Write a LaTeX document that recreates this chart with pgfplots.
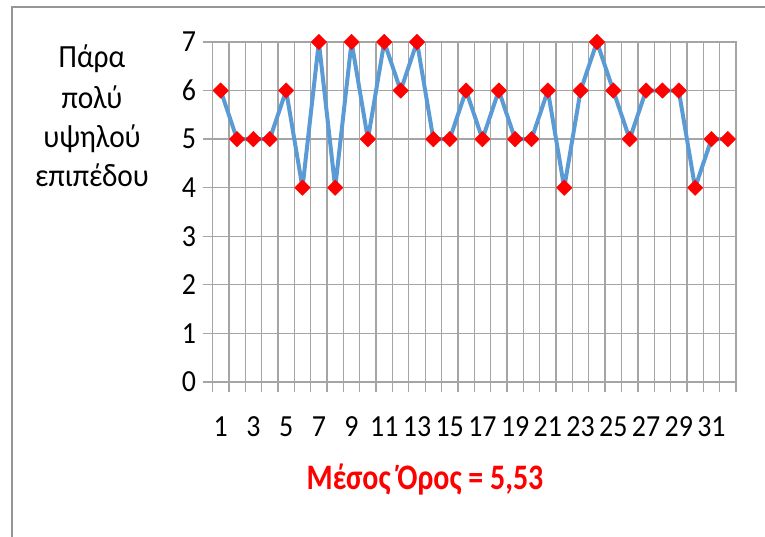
\documentclass[border=0pt]{standalone}
\usepackage{pgfplots}
\pgfplotsset{compat=1.18}
\usepackage{fontspec}
\setmainfont{Carlito}
\definecolor{gridgray}{RGB}{165,165,165}
\definecolor{lineblue}{RGB}{91,155,213}
\definecolor{framegray}{RGB}{150,150,150}
\begin{document}
\begin{tikzpicture}[x=1bp,y=1bp]
\path[use as bounding box] (0,0) rectangle (765,537);
\draw[framegray, line width=1.5bp] (12,0) -- (12,530) -- (765,530);
\begin{axis}[
  at={(212.5bp,155bp)}, anchor=south west,
  scale only axis, width=523.5bp, height=340bp,
  xmin=0.5, xmax=32.5, ymin=0, ymax=7,
  axis line style={gridgray, line width=1.3bp},
  xtick={0.5,1.5,...,32.5}, xticklabels={},
  extra x ticks={1,3,...,31},
  extra x tick style={grid=none, tick style={draw=none}},
  extra x tick labels={1,3,5,7,9,11,13,15,17,19,21,23,25,27,29,31},
  ytick={0,1,...,7},
  xmajorgrids, ymajorgrids,
  grid style={gridgray, line width=1.3bp},
  tick style={gridgray, line width=1.3bp},
  tick align=outside, tick pos=left,
  major tick length=10bp,
  /pgf/number format/assume math mode=true,
  tick label style={font=\fontsize{28}{30}\selectfont, black, yscale=1.1},
  xticklabel style={yshift=-19bp},
  yticklabel style={xshift=-3bp},
  clip=false,
]
\addplot[lineblue, line width=4bp, line join=round, mark=square*, mark size=5.5bp,
  mark options={fill=red, draw=red, line width=0.4bp, rotate=45}] coordinates {
(1,6) (2,5) (3,5) (4,5) (5,6) (6,4) (7,7) (8,4) (9,7) (10,5)
(11,7) (12,6) (13,7) (14,5) (15,5) (16,6) (17,5) (18,6) (19,5) (20,5)
(21,6) (22,4) (23,6) (24,7) (25,6) (26,5) (27,6) (28,6) (29,6) (30,4)
(31,5) (32,5)};
\end{axis}
\begin{scope}[every node/.style={font=\fontsize{29.5}{30}\selectfont, yscale=1.1, anchor=base}]
\node at (92,469) {Πάρα};
\node at (92,428) {πολύ};
\node at (92,389) {υψηλού};
\node at (92,350) {επιπέδου};
\end{scope}
\node[font=\fontsize{30}{32}\selectfont\bfseries, text=red, yscale=1.2] at (425,57) {Μέσος Όρος = 5,53};
\end{tikzpicture}
\end{document}
